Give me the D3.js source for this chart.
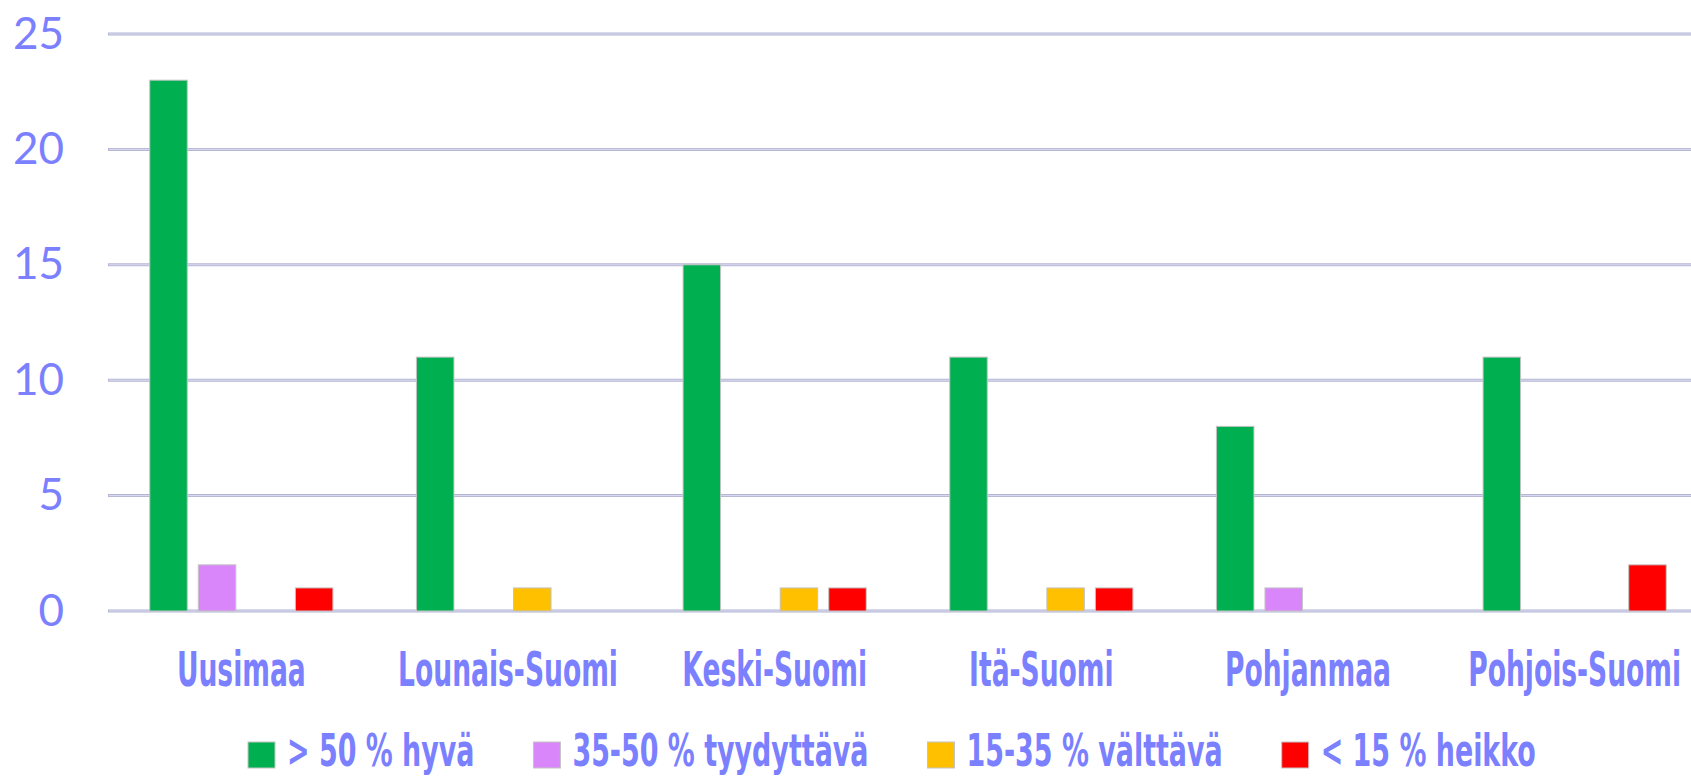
<!DOCTYPE html>
<html>
<head>
<meta charset="utf-8">
<script src="https://cdn.jsdelivr.net/npm/d3@7"></script>
<style>
  html, body { margin: 0; padding: 0; background: #fff; overflow: hidden; }
</style>
</head>
<body>
<script>
// data
const categories = ["Uusimaa", "Lounais-Suomi", "Keski-Suomi", "Itä-Suomi", "Pohjanmaa", "Pohjois-Suomi"];
const seriesNames = ["> 50 % hyvä", "35-50 % tyydyttävä", "15-35 % välttävä", "< 15 % heikko"];
const seriesColors = ["#00b050", "#d886fa", "#ffc000", "#ff0000"];
const hyva = [23, 11, 15, 11, 8, 11];
const tyydyttava = [2, 0, 0, 0, 1, 0];
const valttava = [0, 1, 1, 1, 0, 0];
const heikko = [1, 0, 1, 1, 0, 2];
const yTicks = [0, 5, 10, 15, 20, 25];

const series = [hyva, tyydyttava, valttava, heikko];

const width = 1691, height = 776;
const textColor = "#7b80ff";
const condensedFont = "'Liberation Sans Narrow', 'DejaVu Sans Condensed', 'Arial Narrow', sans-serif";

const svg = d3.select("body").append("svg")
    .attr("width", width)
    .attr("height", height);

// plot runs a little past the right edge, as in the original
const x0 = d3.scaleBand()
    .domain(categories)
    .range([108, 1708])
    .paddingInner(0)
    .paddingOuter(0);

const x1 = d3.scaleBand()
    .domain(d3.range(series.length))
    .range([0, x0.bandwidth()])
    .paddingInner(0.227)
    .paddingOuter(0.86);

const y = d3.scaleLinear()
    .domain([0, 25])
    .range([611, 34]);

// gridlines
const grid = svg.append("g");
grid.selectAll("line.outer")
    .data(yTicks)
    .join("line")
    .attr("class", "outer")
    .attr("x1", 108).attr("x2", width)
    .attr("y1", d => y(d)).attr("y2", d => y(d))
    .attr("stroke", "#b4b6d2")
    .attr("stroke-width", 3);
grid.selectAll("line.inner")
    .data(yTicks)
    .join("line")
    .attr("class", "inner")
    .attr("x1", 109).attr("x2", width)
    .attr("y1", d => y(d)).attr("y2", d => y(d))
    .attr("stroke", "#dcdcf6")
    .attr("stroke-width", 1);

// y labels
svg.append("g")
    .selectAll("text")
    .data(yTicks)
    .join("text")
    .attr("x", 64)
    .attr("y", d => y(d))
    .attr("dy", "0.33em")
    .attr("text-anchor", "end")
    .attr("font-family", "Lato, 'Open Sans', sans-serif")
    .attr("font-size", "44px")
    .attr("fill", textColor)
    .text(d => d);

// bars
const cells = [];
categories.forEach((c, i) => {
    series.forEach((s, j) => {
        if (s[i] > 0) cells.push({ cat: c, s: j, v: s[i] });
    });
});

svg.append("g")
    .selectAll("rect")
    .data(cells)
    .join("rect")
    .attr("x", d => x0(d.cat) + x1(d.s))
    .attr("y", d => y(d.v))
    .attr("width", x1.bandwidth())
    .attr("height", d => y(0) - y(d.v))
    .attr("fill", d => seriesColors[d.s])
    .attr("stroke", "#c4c4c4")
    .attr("stroke-width", 1);

// category labels (squeezed horizontally, the original font is very condensed)
const catScale = 0.615;
svg.append("g")
    .selectAll("text")
    .data(categories)
    .join("text")
    .attr("transform", d => `translate(${x0(d) + x0.bandwidth() / 2},686) scale(${catScale},1)`)
    .attr("text-anchor", "middle")
    .attr("font-family", condensedFont)
    .attr("font-weight", "bold")
    .attr("font-size", "48px")
    .attr("fill", textColor)
    .text(d => d);

// legend
const legScale = 0.68;
const legend = svg.append("g");
let lx = 248;
seriesNames.forEach((name, j) => {
    legend.append("rect")
        .attr("x", lx)
        .attr("y", 742)
        .attr("width", 27)
        .attr("height", 26)
        .attr("fill", seriesColors[j])
        .attr("stroke", "#c4c4c4")
        .attr("stroke-width", 1);
    const t = legend.append("text")
        .attr("transform", `translate(${lx + 39},766) scale(${legScale},1)`)
        .attr("font-family", condensedFont)
        .attr("font-weight", "bold")
        .attr("font-size", "44px")
        .attr("fill", textColor)
        .text(name);
    lx += 39 + t.node().getComputedTextLength() * legScale + 59;
});
</script>
</body>
</html>
